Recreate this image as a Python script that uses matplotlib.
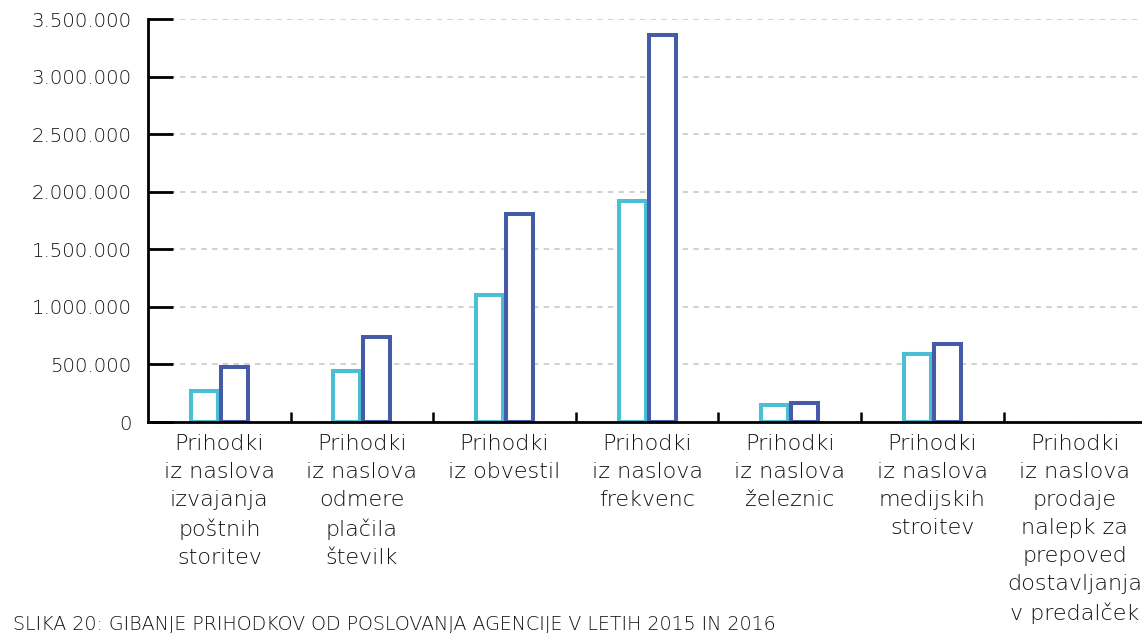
import matplotlib
matplotlib.use("Agg")
import matplotlib.pyplot as plt
from matplotlib.ticker import FuncFormatter, FixedLocator

categories = [
    "Prihodki\niz naslova\nizvajanja\npoštnih\nstoritev",
    "Prihodki\niz naslova\nodmere\nplačila\nštevilk",
    "Prihodki\niz obvestil",
    "Prihodki\niz naslova\nfrekvenc",
    "Prihodki\niz naslova\nželeznic",
    "Prihodki\niz naslova\nmedijskih\nstroitev",
    "Prihodki\niz naslova\nprodaje\nnalepk za\nprepoved\ndostavljanja\nv predalček",
]
values_2015 = [265000, 443000, 1103000, 1920000, 148000, 591000, 0]
values_2016 = [478000, 738000, 1807000, 3358000, 165000, 678000, 0]
yticks = [0, 500000, 1000000, 1500000, 2000000, 2500000, 3000000, 3500000]
caption = "SLIKA 20: GIBANJE PRIHODKOV OD POSLOVANJA AGENCIJE V LETIH 2015 IN 2016"

plt.rcParams['font.family'] = ['DejaVu Sans']

c2015 = "#4bbfd4"
c2016 = "#465ba8"
txt = "#111111"

fig = plt.figure(figsize=(11.42, 6.33), dpi=100)
ax = fig.add_axes([148/1142, (633-422)/633, 1 - 148/1142, (422-19)/633])

x = list(range(len(categories)))
w = 0.19
off = 0.105
ax.bar([i - off for i in x], values_2015, width=w, facecolor="white",
       edgecolor=[c2015 if v > 0 else "none" for v in values_2015],
       linewidth=2.9, zorder=3)
ax.bar([i + off for i in x], values_2016, width=w, facecolor="white",
       edgecolor=[c2016 if v > 0 else "none" for v in values_2016],
       linewidth=2.9, zorder=3)

ax.set_xlim(-0.5, -0.5 + (1142 - 148) / 142.6)
ax.set_ylim(0, 3500000)

ax.set_yticks(yticks)
ax.yaxis.set_major_formatter(FuncFormatter(lambda v, p: f"{int(v):,}".replace(",", ".")))
ax.tick_params(axis='y', direction='in', length=18, width=2, pad=12,
               labelsize=14.2, labelcolor=txt, color="black")
for lab in ax.get_yticklabels():
    lab.set_fontweight('light')

ax.set_xticks(x)
ax.set_xticklabels(categories, fontsize=16, color=txt, linespacing=1.49,
                   fontweight='light')
ax.tick_params(axis='x', which='major', length=0, pad=9)
ax.xaxis.set_minor_locator(FixedLocator([i + 0.5 for i in x[:-1]]))
ax.tick_params(axis='x', which='minor', direction='in', length=7, width=1.8,
               color="black")

for s in ['top', 'right']:
    ax.spines[s].set_visible(False)
for s in ['left', 'bottom']:
    ax.spines[s].set_linewidth(2)
    ax.spines[s].set_color("black")
ax.spines['bottom'].set_zorder(4)

ax.yaxis.grid(True, linestyle=(0, (3.5, 3.5)), color="#c4c4c4", linewidth=1.1, zorder=0)
ax.set_axisbelow(True)

fig.text(13/1142, 1 - 630/633, caption, fontsize=13.7, color=txt,
         ha='left', va='baseline', fontweight='light')

fig.savefig("out.png", dpi=100)
